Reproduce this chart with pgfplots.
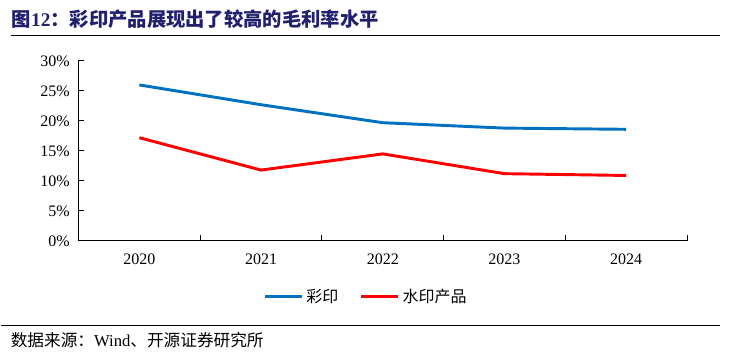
\documentclass[border=0pt]{standalone}
\usepackage{fontspec}
\setmainfont{Liberation Serif}
\newfontfamily\cjk{Noto Sans CJK SC}
\usepackage{pgfplots}
\pgfplotsset{compat=1.18}
\definecolor{blueline}{RGB}{0,112,192}
\definecolor{redline}{RGB}{255,0,0}
\definecolor{titleblue}{RGB}{32,32,110}
\begin{document}
\begin{tikzpicture}
\begin{axis}[
  name=ax,
  scale only axis, width=456.75pt, height=135pt,
  xmin=-0.5, xmax=4.5, ymin=0, ymax=30,
  axis x line=bottom, axis y line=left,
  axis line style={-, line width=0.8pt},
  tick align=inside,
  major tick length=4.5pt,
  every tick/.style={black, line width=0.8pt},
  xtick={0,1,2,3,4},
  xticklabels={2020,2021,2022,2023,2024},
  xtick style={draw=none},
  extra x ticks={0.5,1.5,2.5,3.5,4.5},
  extra x tick labels={},
  extra x tick style={xtick style={draw=black, line width=0.8pt}},
  ytick={0,5,10,15,20,25,30},
  yticklabel={\pgfmathprintnumber{\tick}\%},
  /pgf/number format/assume math mode=true,
  ticklabel style={font=\fontsize{12}{13}\selectfont},
  xticklabel style={yshift=-6.5pt},
  yticklabel style={xshift=-3pt},
  legend columns=2,
  legend style={draw=none, at={(0.473,-0.311)}, anchor=center, font=\cjk\fontsize{12}{14}\selectfont, /tikz/every even column/.append style={column sep=14pt}},
  legend image code/.code={\draw[#1] (0pt,0pt) -- (28pt,0pt);},
]
\addplot[blueline, line width=2.2pt] coordinates {(0,26.0) (1,22.7) (2,19.7) (3,18.8) (4,18.6)};
\addlegendentry{彩印}
\addplot[redline, line width=2.2pt] coordinates {(0,17.2) (1,11.8) (2,14.5) (3,11.2) (4,10.9)};
\addlegendentry{水印产品}
\end{axis}
\begin{scope}[shift={(ax.south west)}, x=0.75pt, y=0.75pt]
\path (-78,-118) rectangle (659,241);
\draw[line width=0.8pt] (-68,205) -- (642,205);
\draw[line width=0.8pt] (-78,-85) -- (642,-85);
\node[anchor=west, text=titleblue, inner sep=0pt] at (-67,222) {\fontsize{14.5}{16}\selectfont{\cjk\bfseries 图}\textbf{12}{\cjk\bfseries ：彩印产品展现出了较高的毛利率水平}};
\node[anchor=west, inner sep=0pt] at (-68,-99) {\fontsize{12.5}{14}\selectfont{\cjk 数据来源：}Wind{\cjk 、开源证券研究所}};
\end{scope}
\end{tikzpicture}
\end{document}
